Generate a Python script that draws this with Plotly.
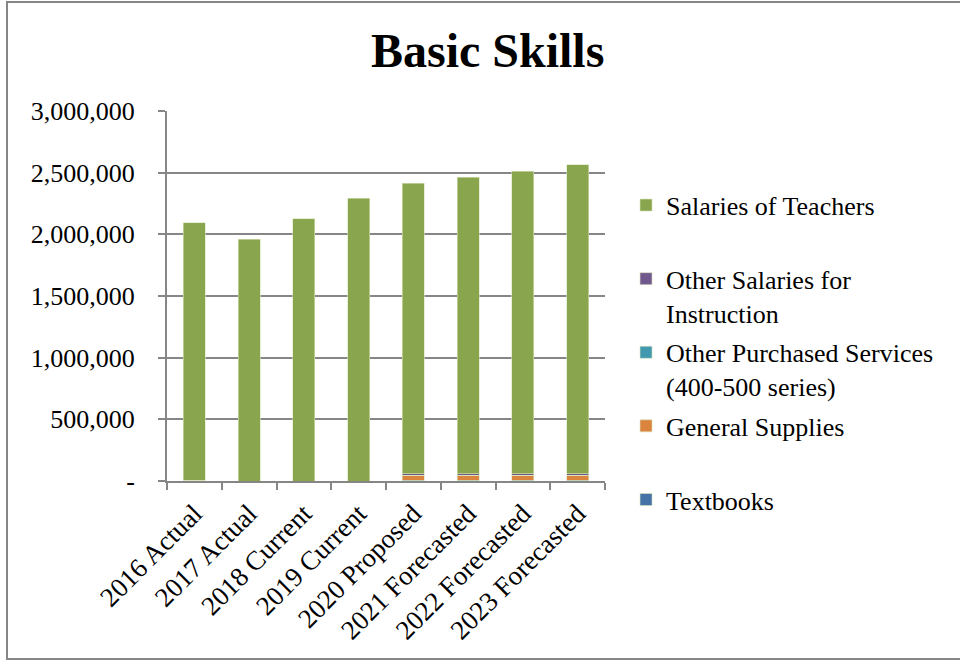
import plotly.graph_objects as go

# Budget categories (x axis)
years = ["2016 Actual", "2017 Actual", "2018 Current", "2019 Current",
         "2020 Proposed", "2021 Forecasted", "2022 Forecasted", "2023 Forecasted"]

# Series values
textbooks = [2000, 0, 0, 0, 8000, 8000, 8000, 8000]
general_supplies = [4000, 0, 0, 0, 37000, 37000, 37000, 37000]
other_purchased = [0, 0, 0, 0, 2000, 2000, 2000, 2000]
other_salaries = [0, 0, 0, 0, 10000, 10000, 10000, 10000]
salaries_teachers = [2088000, 1959000, 2127000, 2294000, 2358000, 2404000, 2456000, 2507000]

y_ticks = [0, 500000, 1000000, 1500000, 2000000, 2500000, 3000000]
y_tick_text = ["-", "500,000", "1,000,000", "1,500,000", "2,000,000", "2,500,000", "3,000,000"]

series = [
    ("Textbooks<br> ", textbooks, "#4572A7"),
    ("General Supplies<br> ", general_supplies, "#DB843D"),
    ("Other Purchased Services<br>(400-500 series)", other_purchased, "#4198AF"),
    ("Other Salaries for<br>Instruction", other_salaries, "#71588F"),
    ("Salaries of Teachers<br> ", salaries_teachers, "#89A54E"),
]

fig = go.Figure()
for i, (name, vals, color) in enumerate(series):
    # stacked bottom-up, legend listed top-down
    fig.add_trace(go.Bar(x=years, y=vals, name=name, legendgroup=str(i), legendrank=1000 - 10 * i,
                         marker=dict(color=color, line=dict(color="#d8e4bc", width=0.6))))

serif = "Liberation Serif, Times New Roman, serif"
grey = "#868686"

fig.update_layout(
    barmode="stack",
    bargap=0.6,
    width=960, height=661,
    margin=dict(l=167, r=355, t=111, b=180, autoexpand=False),
    paper_bgcolor="white",
    plot_bgcolor="white",
    font=dict(family=serif, size=26, color="black"),
    title=dict(text="<b>Basic Skills</b>", x=0.508, xanchor="center", y=0.924, yanchor="middle",
               font=dict(family=serif, size=48, color="black")),
    legend=dict(x=1.048, xanchor="left", y=0.809, yanchor="top", traceorder="grouped",
                tracegroupgap=3, valign="top", maxheight=600, font=dict(family=serif, size=26),
                itemclick=False),
    xaxis=dict(showline=True, linecolor=grey, linewidth=2, ticks="outside", tickson="boundaries",
               tickcolor=grey, tickwidth=2, ticklen=7, tickangle=-45, showgrid=False,
               automargin=False, ticklabelstandoff=4, tickfont=dict(family=serif, size=27)),
    yaxis=dict(range=[0, 3000000], tickvals=y_ticks, ticktext=y_tick_text,
               showline=True, linecolor=grey, linewidth=2, ticks="outside",
               tickcolor=grey, tickwidth=2, ticklen=7, showgrid=True, gridcolor=grey, gridwidth=2,
               zeroline=False, automargin=False, ticklabelstandoff=18,
               tickfont=dict(family=serif, size=26)),
    shapes=[dict(type="rect", xref="paper", yref="paper",
                 x0=(7 - 167) / 438, x1=(965 - 167) / 438,
                 y0=(481 - 659) / 370, y1=(481 - 2) / 370,
                 line=dict(color=grey, width=2), layer="below")],
)

# drop the browser's default body margin so the figure sits at the page corner
fig.write_html("out.html", config={"displayModeBar": False},
               post_script="document.body.style.margin = '0';")
